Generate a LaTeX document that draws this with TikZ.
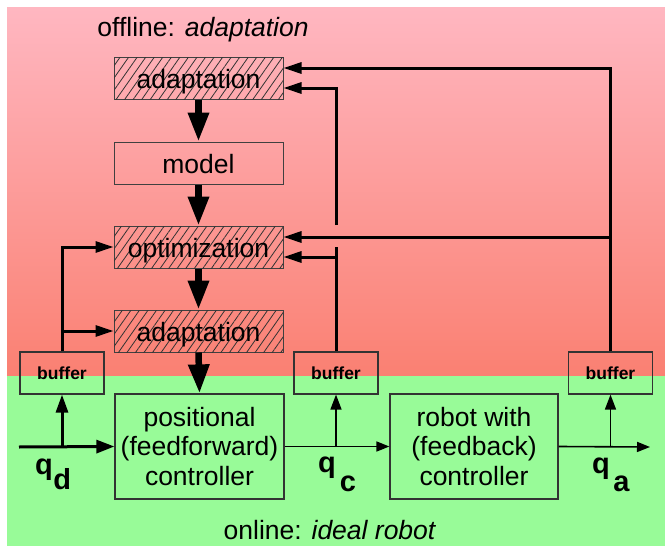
\documentclass[tikz,border=0pt]{standalone}
\usepackage{fontspec}
\setmainfont{Liberation Sans}
\usetikzlibrary{arrows.meta,patterns.meta,calc}
\definecolor{pinktop}{RGB}{255,183,193}
\definecolor{pinkbot}{RGB}{250,128,114}
\definecolor{greenbg}{RGB}{152,251,152}
\tikzset{
  boxtext/.style={font=\fontsize{26.5}{29.5}\selectfont, align=center, inner sep=0pt},
  hbox/.style={boxtext, text height=20pt, text depth=0pt, draw=black!75, line width=1pt, minimum width=169pt, minimum height=42pt,
     postaction={pattern={Lines[angle=55,distance=7pt,line width=0.8pt]}, pattern color=black!80}},
  pbox/.style={boxtext, text height=20pt, text depth=0pt, draw=black!75, line width=1pt, minimum width=169pt, minimum height=42pt},
  gbox/.style={boxtext, draw=black!80, line width=1.2pt, minimum width=169pt, minimum height=105pt},
  bufbox/.style={draw=black!80, line width=1.2pt, minimum width=84pt, minimum height=42pt, inner sep=0pt,
     font=\fontsize{17.5}{20}\selectfont\bfseries},
  bigarrow/.style={line width=6.5pt, -{Triangle[length=29pt,width=20pt]}},
  fbline/.style={line width=3pt},
  fbarrow/.style={fbline, -{Triangle[length=18pt,width=11pt]}},
  thickin/.style={line width=3pt, -{Triangle[length=18pt,width=13pt]}},
  thickup/.style={line width=3pt, -{Triangle[length=18pt,width=12pt]}},
  thinarrow/.style={line width=1.6pt, -{Triangle[length=13pt,width=10pt]}},
  thinup/.style={line width=1.6pt, -{Triangle[length=15pt,width=11pt]}},
  qlab/.style={font=\fontsize{29}{30}\selectfont\bfseries, inner sep=0pt, anchor=base west},
  title/.style={font=\fontsize{26.5}{30}\selectfont, inner sep=0pt, anchor=base}
}
\begin{document}
\begin{tikzpicture}[x=1pt,y=-1pt]
\useasboundingbox (0,0) rectangle (665,546);
\shade[top color=pinktop, bottom color=pinkbot] (7,7) rectangle (665,376);
\fill[greenbg] (7,376) rectangle (665,546);

% titles
\node[title] (toff) at (203,37) {offline: \textit{adaptation}};
\node[title] (ton) at (330,539) {online: \textit{ideal robot}};

% offline boxes
\node[hbox] (ad1) at (198.5,78) {adaptation};
\node[pbox] (model) at (198.5,163) {model};
\node[hbox] (opt) at (198.5,247) {optimization};
\node[hbox] (ad2) at (198.5,331) {adaptation};

% online boxes
\node[gbox] (pos) at (199.5,446.5) {positional\\(feedforward)\\controller};
\node[gbox, minimum width=168pt] (rob) at (474,446.5) {robot with\\(feedback)\\controller};

% buffers
\node[bufbox] (bl) at (62,373) {buffer};
\node[bufbox] (bc) at (336,373) {buffer};
\node[bufbox] (br) at (610.5,373) {buffer};

% thick vertical arrows
\draw[bigarrow] (ad1.south) -- (model.north);
\draw[bigarrow] (model.south) -- (opt.north);
\draw[bigarrow] (opt.south) -- (ad2.north);
\draw[bigarrow] (ad2.south) -- (pos.north);

% feedback coordinates
\coordinate (a1in) at ([yshift=10pt]ad1.east);
\coordinate (a2in) at ([yshift=-10pt]ad1.east);
\coordinate (o1in) at ([yshift=10pt]opt.east);
\coordinate (o2in) at ([yshift=-10pt]opt.east);
\coordinate (gaplo) at ($(bc.north |- o1in)+(0,10)$);
\coordinate (gaphi) at ($(bc.north |- o1in)+(0,-12)$);

% right feedback (q_a)
\draw[fbarrow] (br.north) |- (a1in);
\draw[fbarrow] (br.north |- o1in) -- (o1in);

% middle feedback (q_c)
\draw[fbline] (bc.north) -- (gaplo);
\draw[fbarrow] (bc.north |- o2in) -- (o2in);
\draw[fbarrow] (gaphi) |- (a2in);

% left feedback (q_d)
\draw[fbarrow] (bl.north) |- (opt.west);
\draw[fbarrow] (bl.north |- ad2.west) -- (ad2.west);

% signal line
\coordinate (sin) at (19,447);
\coordinate (sout) at (650,447);
\draw[thickin] (sin) -- (pos.west);
\draw[thinarrow] (pos.east) -- (rob.west);
\draw[thinarrow] (rob.east) -- (sout);
\draw[thickup] (bl.south |- sin) -- (bl.south);
\draw[thinup] (bc.south |- sin) -- (bc.south);
\draw[thinup] (br.south |- sout) -- (br.south);

% labels
\node[qlab] (qd) at (35,474) {q\kern0.5pt\raisebox{-15pt}{d}};
\node[qlab] (qc) at (318,472) {q\kern4pt\raisebox{-19pt}{c}};
\node[qlab] (qa) at (592,473) {q\kern3.5pt\raisebox{-18pt}{a}};
\end{tikzpicture}
\end{document}
